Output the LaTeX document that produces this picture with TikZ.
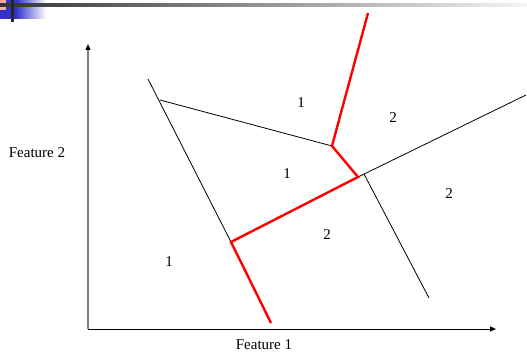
\documentclass[tikz,border=0pt]{standalone}
\usepackage{fontspec}
\setmainfont{Liberation Serif}
\usetikzlibrary{arrows.meta}
\definecolor{cutred}{HTML}{FF0000}
\definecolor{barblue}{HTML}{3333CC}
\definecolor{barpink}{HTML}{FFA8A8}
\definecolor{axisgray}{HTML}{808080}

\begin{document}
\begin{tikzpicture}[x=1pt,y=-1pt,font=\fontsize{15}{18}\selectfont,
  edge/.style={black,line width=0.8pt},cut/.style={cutred,line width=2.4pt},lab/.style={inner sep=0pt}]
\useasboundingbox (0,0) rectangle (527,353);
% slide header
\fill[barblue] (0,0) rectangle (16,19);
\shade[left color=barblue,right color=white] (16,0) rectangle (46,19);
\fill[barpink] (0,0) rectangle (6,10);
\shade[left color=black!80,right color=black!4] (0,4) rectangle (527,7);
\fill[black!85] (11,0) rectangle (13.5,22);
% axes
\coordinate (o) at (88,329);\coordinate (ytip) at (88,44);\coordinate (xtip) at (496,329);
\draw[axisgray,line width=1.4pt,-{Triangle[black,length=6pt,width=5pt]}] (o) -- (ytip);
\draw[line width=1pt,-{Triangle[length=6pt,width=5pt]}] (o) -- (xtip);
\node (f1) at (264,345) {Feature 1};
\node (f2) at (37,153) {Feature 2};
% cell corners
\coordinate (a) at (148,79);\coordinate (b) at (160,100);\coordinate (c) at (231,242);
\coordinate (d) at (332,146);\coordinate (e) at (358,177);\coordinate (f) at (364,174);
\coordinate (g) at (526,95);\coordinate (h) at (429,298);\coordinate (t) at (368,13);\coordinate (u) at (271,323);
\draw[edge] (a) -- (c);\draw[edge] (b) -- (d);\draw[edge] (e) -- (g);\draw[edge] (f) -- (h);
\draw[cut] (t) -- (d) -- (e) -- (c) -- (u);
% class labels
\foreach \n/\x/\y/\t in {r1/301/103/1,r2/393/118/2,r3/287/174/1,r4/449/194/2,r5/327/235/2,r6/169/262/1}{\node[lab] (\n) at (\x,\y) {\t};}
\end{tikzpicture}
\end{document}
